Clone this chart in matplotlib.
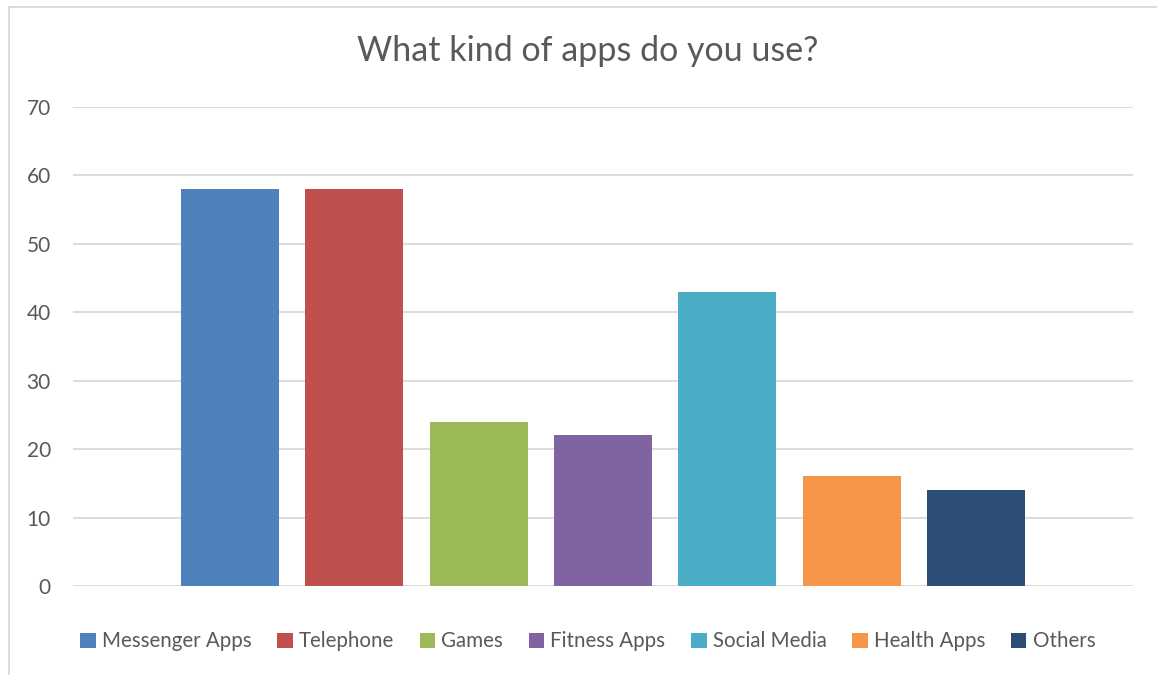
import matplotlib.pyplot as plt
from matplotlib.patches import Patch

apps = ['Messenger Apps', 'Telephone', 'Games', 'Fitness Apps',
        'Social Media', 'Health Apps', 'Others']
counts = [58, 58, 24, 22, 43, 16, 14]
colors = ['#4F81BD', '#C0504D', '#9BBB59', '#8064A2',
          '#4BACC6', '#F79646', '#2C4D75']
yticks = [0, 10, 20, 30, 40, 50, 60, 70]

plt.rcParams['font.family'] = ['Lato', 'DejaVu Sans']
text_color = '#595959'

fig = plt.figure(figsize=(11.57, 6.75), dpi=100)
ax = fig.add_axes([0.0631, 0.1319, 0.9161, 0.7096])

ax.bar(range(len(apps)), counts, width=0.787, color=colors, zorder=3)

ax.set_xlim(-1.26, 7.26)
ax.set_ylim(0, 70)
ax.set_yticks(yticks)
ax.set_xticks([])
ax.tick_params(axis='y', length=0, pad=16, labelsize=15, labelcolor=text_color)
ax.grid(axis='y', color='#D9D9D9', linewidth=1.3, zorder=0)
for s in ax.spines.values():
    s.set_visible(False)

fig.text(0.508, 0.925, 'What kind of apps do you use?', ha='center', va='center',
         fontsize=24.5, color=text_color)

handles = [Patch(facecolor=c, label=a) for a, c in zip(apps, colors)]
fig.legend(handles=handles, loc='center', bbox_to_anchor=(0.508, 0.05), ncol=7,
           frameon=False, fontsize=14.8, labelcolor=text_color,
           handlelength=0.75, handleheight=0.75, handletextpad=0.3, columnspacing=1.25)

# outer chart border
fig.add_artist(plt.Line2D([0.0078, 0.0078], [0, 0.9896], color='#D9D9D9', linewidth=1.3))
fig.add_artist(plt.Line2D([0.0078, 1], [0.9896, 0.9896], color='#D9D9D9', linewidth=1.3))

fig.savefig('out.png', dpi=100)
